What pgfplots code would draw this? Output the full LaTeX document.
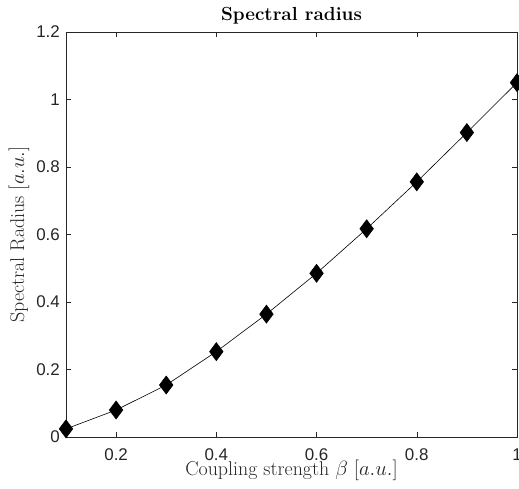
\documentclass[border=0pt]{standalone}
\usepackage{fontspec}
\usepackage{pgfplots}
\pgfplotsset{compat=1.18}
\newfontfamily\ticksf{Liberation Sans}
\definecolor{axgray}{gray}{0.15}
\begin{document}
\begin{tikzpicture}
\begin{axis}[
  scale only axis,
  width=451bp, height=405bp,
  xmin=0.1, xmax=1, ymin=0, ymax=1.2,
  xtick={0.2,0.4,0.6,0.8,1},
  ytick={0,0.2,0.4,0.6,0.8,1,1.2},
  xticklabels={0.2,0.4,0.6,0.8,1},
  yticklabels={0,0.2,0.4,0.6,0.8,1,1.2},
  tick align=inside,
  major tick length=5bp,
  axis line style={axgray, line width=0.5bp},
  every tick/.style={axgray, line width=0.5bp},
  tick label style={font=\fontsize{17}{20}\ticksf, text=axgray, inner sep=1bp},
  xticklabel style={anchor=base, yshift=-23.5bp},
  yticklabel style={anchor=east, xshift=-5bp},
  /pgf/number format/assume math mode=true,
  every axis title shift=0pt,
  title={\textbf{Spectral radius}},
  title style={font=\fontsize{19}{22}\selectfont, at={(axis description cs:0.5,1.0272)}, anchor=base},
  xlabel={Coupling strength $\beta$ $[a.u.]$},
  ylabel={Spectral Radius $[a.u.]$},
  label style={font=\fontsize{20}{24}\selectfont, text=axgray, inner sep=1bp},
  xlabel style={at={(axis description cs:0.5,-0.095)}, anchor=base},
  ylabel style={at={(axis description cs:-0.0931,0.5)}, anchor=base},
]
\addplot[black, line width=0.6bp, mark=diamond*, mark size=9bp, mark options={fill=black}]
coordinates {
(0.1,0.024) (0.2,0.080) (0.3,0.154) (0.4,0.253) (0.5,0.364)
(0.6,0.485) (0.7,0.617) (0.8,0.756) (0.9,0.902) (1.0,1.050)
};
\end{axis}
\pgfresetboundingbox
\path[use as bounding box] (-66bp,-52bp) rectangle (453bp,437bp);
\end{tikzpicture}
\end{document}
